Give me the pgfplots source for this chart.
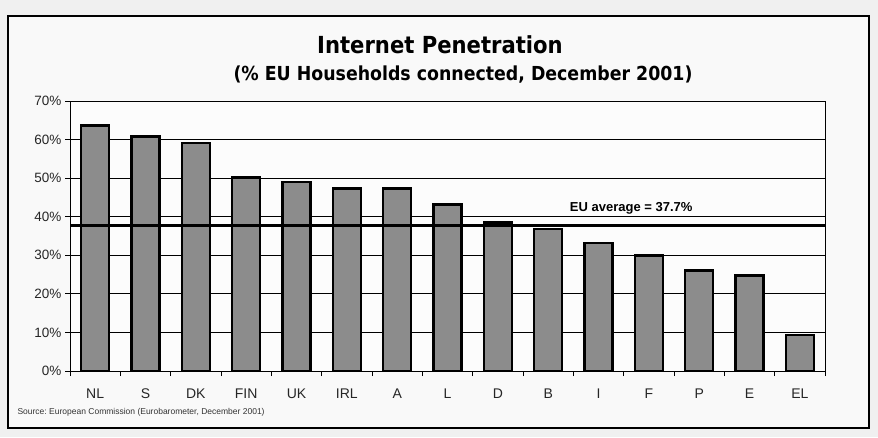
\documentclass[border=0pt]{standalone}
\usepackage{pgfplots}
\pgfplotsset{compat=1.18}
\usepackage{fontspec}
\setmainfont{Liberation Sans}
\newfontfamily\titlefont{DejaVu Sans Condensed}
\definecolor{barfill}{RGB}{140,140,140}
\definecolor{bg}{RGB}{240,240,240}
\begin{document}
\begin{tikzpicture}
\fill[bg] (0pt,0pt) rectangle (878pt,437pt);
\draw[line width=1.6pt, fill=white!60!bg] (8pt,9pt) rectangle (869pt,421pt);
\node[font=\titlefont\bfseries\fontsize{23.5}{23.5}\selectfont] at (440pt,392pt) {Internet Penetration};
\node[font=\titlefont\bfseries\fontsize{19.3}{19.3}\selectfont] at (463pt,362pt) {(\% EU Households connected, December 2001)};
\node[anchor=west, font=\fontsize{8.5}{8.5}\selectfont, text=black!80] at (14pt,25pt) {Source:\ European Commission (Eurobarometer,\ December 2001)};
\begin{axis}[
  at={(70pt,66pt)}, anchor=south west,
  width=755pt, height=270pt, scale only axis,
  xmin=0.5, xmax=15.5, ymin=0, ymax=70,
  axis background/.style={fill=white!80!bg},
  ytick={0,10,...,70},
  yticklabel={\pgfmathprintnumber[assume math mode=true]{\tick}\%},
  xtick={1,...,15},
  xticklabels={NL,S,DK,FIN,UK,IRL,A,L,D,B,I,F,P,E,EL},
  major x tick style={draw=none},
  minor xtick={0.5,1.5,...,15.5},
  minor tick length=5pt, major tick length=5pt,
  tick align=outside, tick pos=left,
  tick style={black, line width=0.8pt},
  ymajorgrids, grid style={black, line width=0.8pt},
  axis line style={black, line width=1pt},
  yticklabel style={font=\fontsize{13.5}{13.5}\selectfont, text=black!85},
  xticklabel style={font=\fontsize{14}{14}\selectfont, text=black!85, yshift=-9pt},
  clip=false,
]
\addplot[ybar, bar width=28pt, fill=barfill, draw=black, line width=2.6pt] coordinates {
  (1,63.7) (2,60.8) (3,59.1) (4,50.2) (5,49.0) (6,47.3) (7,47.3) (8,43.2)
  (9,38.5) (10,36.8) (11,33.2) (12,30.0) (13,26.0) (14,24.8) (15,9.3)
};
\addplot[black, line width=3.5pt] coordinates {(0.5,37.7) (15.5,37.7)};
\node[font=\bfseries\fontsize{13}{13}\selectfont] at (axis cs:11.65,42.3) {EU average = 37.7\%};
\end{axis}
\end{tikzpicture}
\end{document}
